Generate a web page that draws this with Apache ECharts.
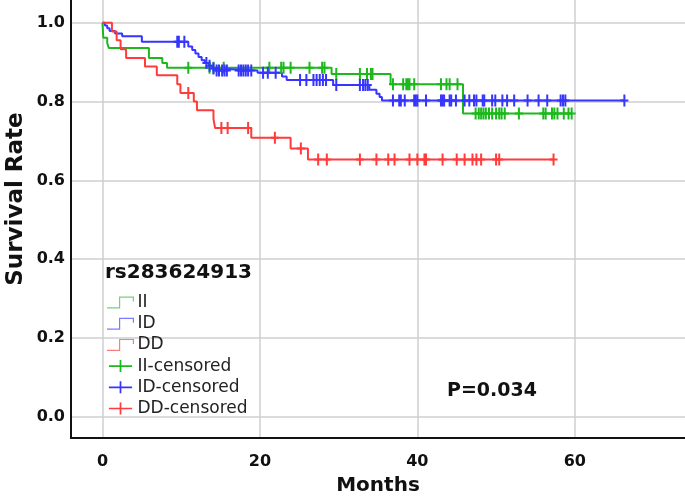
<!DOCTYPE html>
<html>
<head>
<meta charset="utf-8">
<script src="https://cdn.jsdelivr.net/npm/echarts@6/dist/echarts.min.js"></script>
<style>
html,body{margin:0;padding:0;background:#fff;}
#chart{width:685px;height:496px;}
</style>
</head>
<body>
<div id="chart"></div>
<script>
// ---- Data ----
// Kaplan-Meier step points: event times (months) and survival after each event
const iiTimes = [0, 0.1, 0.6, 0.8, 5.9, 7.6, 8.2, 29.1, 36.6, 45.8, 59.6];
const iiSurv  = [1.0, 0.962, 0.949, 0.936, 0.911, 0.898, 0.886, 0.870, 0.844, 0.770, 0.770];

const idTimes = [0, 0.3, 0.6, 0.9, 1.6, 2.5, 5.0, 10.9, 11.4, 11.8, 12.2, 12.6, 13.0, 13.5, 13.9, 14.3, 19.7, 22.8, 23.4, 29.3, 33.9, 34.8, 35.2, 35.5, 66.3];
const idSurv  = [1.0, 0.993, 0.986, 0.979, 0.973, 0.966, 0.952, 0.940, 0.931, 0.922, 0.913, 0.905, 0.898, 0.891, 0.884, 0.879, 0.873, 0.864, 0.855, 0.842, 0.830, 0.820, 0.812, 0.803, 0.803];

const ddTimes = [0, 1.2, 1.8, 2.3, 3.0, 5.4, 6.9, 9.5, 9.9, 11.6, 12.0, 14.1, 14.3, 18.9, 23.9, 26.1, 57.3];
const ddSurv  = [1.0, 0.978, 0.956, 0.933, 0.911, 0.889, 0.867, 0.844, 0.822, 0.800, 0.778, 0.756, 0.733, 0.708, 0.681, 0.653, 0.653];

// censoring times (months)
const iiCensor = [10.9, 13.6, 14.1, 15.4, 21.2, 22.7, 23.0, 23.9, 26.3, 27.9, 28.2, 29.7, 32.7, 33.6, 34.1, 34.3,
  36.9, 38.2, 38.6, 38.8, 39.0, 39.6, 43.0, 43.7, 44.1, 45.1, 47.4, 47.8, 48.1, 48.4, 48.7, 49.1, 49.5, 50.0,
  50.4, 50.7, 51.1, 52.9, 56.0, 56.3, 57.1, 57.4, 57.8, 58.6, 59.2, 59.6];
const idCensor = [9.5, 9.7, 10.4, 13.2, 13.6, 14.1, 14.5, 14.8, 15.2, 15.5, 15.8, 17.3, 17.6, 17.9, 18.2, 18.5, 18.9,
  20.4, 21.0, 22.0, 25.1, 25.9, 26.8, 27.2, 27.6, 28.0, 28.4, 29.7, 32.7, 33.1, 33.4, 33.7,
  36.9, 37.7, 37.9, 38.4, 39.6, 39.8, 40.0, 41.1, 43.0, 43.2, 43.4, 44.1, 44.3, 44.9, 46.0, 46.6, 47.2, 47.5,
  48.3, 48.5, 49.5, 49.9, 50.8, 51.4, 52.3, 54.0, 55.4, 56.5, 58.2, 58.5, 58.8, 66.3];
const ddCensor = [10.9, 15.1, 15.9, 18.5, 21.9, 25.2, 27.4, 28.5, 32.7, 34.8, 36.3, 37.1, 39.0, 40.0, 40.9, 41.1,
  43.2, 45.0, 46.0, 47.0, 47.5, 48.1, 50.0, 50.4, 57.3];

const xTicks = [0, 20, 40, 60];
const yTicks = [0.0, 0.2, 0.4, 0.6, 0.8, 1.0];
const groupNames = ['II', 'ID', 'DD'];
const censorNames = ['II-censored', 'ID-censored', 'DD-censored'];
const legendTitle = 'rs283624913';
const pText = 'P=0.034';

// ---- Build ----
function pairs(t, s) { return t.map((v, i) => [v, s[i]]); }
function survAt(t, s, x) {
  let v = s[0];
  for (let i = 0; i < t.length; i++) { if (t[i] <= x) v = s[i]; }
  return v;
}
function censorPts(c, t, s) { return c.map(x => [x, survAt(t, s, x)]); }

const colors = ['#1cb81c', '#3535ff', '#ff3b3b'];
const lightColors = ['#6fd66f', '#7b7bff', '#ff7b7b'];
const FONT = 'DejaVu Sans';

const plusSym = 'path://M0,5H3V0H5V5H8V7H5V12H3V7H0Z';
const plusIcon = 'path://M0,6H12.5V0H14.5V6H27V8H14.5V14H12.5V8H0Z';
const stepIcon = 'path://M0,10.8H12V0H27V5H25.8V1.2H13.2V12H0Z';

const curves = [pairs(iiTimes, iiSurv), pairs(idTimes, idSurv), pairs(ddTimes, ddSurv)];
const cens = [censorPts(iiCensor, iiTimes, iiSurv), censorPts(idCensor, idTimes, idSurv), censorPts(ddCensor, ddTimes, ddSurv)];

const series = [];
for (let i = 0; i < 3; i++) {
  series.push({
    name: groupNames[i], type: 'line', step: 'end', data: curves[i],
    showSymbol: false, symbol: 'none', silent: true, animation: false,
    lineStyle: { color: colors[i], width: 2 }, itemStyle: { color: colors[i] }, z: 3
  });
}
for (let i = 0; i < 3; i++) {
  series.push({
    name: censorNames[i], type: 'scatter', data: cens[i], symbol: plusSym, symbolSize: [8, 12],
    itemStyle: { color: colors[i], opacity: 1 }, silent: true, animation: false, z: 4
  });
}

const chart = echarts.init(document.getElementById('chart'), null, { renderer: 'canvas' });
chart.setOption({
  animation: false,
  backgroundColor: '#ffffff',
  grid: { left: 71, right: 0, top: 0, bottom: 58, containLabel: false, outerBoundsMode: 'none' },
  xAxis: {
    type: 'value', min: -4, max: 74, minInterval: 20, maxInterval: 20,
    axisLine: { show: true, onZero: false, lineStyle: { color: '#111', width: 2 } },
    axisTick: { show: false },
    axisLabel: {
      margin: 16, color: '#111', fontFamily: FONT, fontWeight: 'bold', fontSize: 16,
      showMinLabel: false, showMaxLabel: false,
      formatter: v => (xTicks.indexOf(v) >= 0 ? String(v) : '')
    },
    splitLine: { show: true, showMinLine: false, showMaxLine: false, lineStyle: { color: '#cfcfcf', width: 1.5 } },
    name: 'Months', nameLocation: 'middle', nameGap: 38,
    nameTextStyle: { color: '#111', fontFamily: FONT, fontWeight: 'bold', fontSize: 20 }
  },
  yAxis: {
    type: 'value', min: -0.054, max: 1.058, minInterval: 0.2, maxInterval: 0.2,
    axisLine: { show: true, onZero: false, lineStyle: { color: '#111', width: 2 } },
    axisTick: { show: false },
    axisLabel: {
      margin: 6, color: '#111', fontFamily: FONT, fontWeight: 'bold', fontSize: 16,
      showMinLabel: false, showMaxLabel: false,
      formatter: v => {
        const hit = yTicks.find(t => Math.abs(t - v) < 1e-6);
        return hit === undefined ? '' : hit.toFixed(1);
      }
    },
    splitLine: { show: true, showMinLine: false, showMaxLine: false, lineStyle: { color: '#cfcfcf', width: 1.5 } }
  },
  legend: {
    orient: 'vertical', left: 107, top: 294, itemWidth: 28, itemHeight: 12, itemGap: 4.2,
    selectedMode: false, padding: 0,
    textStyle: { color: '#222', fontFamily: FONT, fontSize: 17, lineHeight: 12, padding: [0, 0, 0, -2] },
    data: [
      { name: groupNames[0], icon: stepIcon, itemStyle: { color: lightColors[0] } },
      { name: groupNames[1], icon: stepIcon, itemStyle: { color: lightColors[1] } },
      { name: groupNames[2], icon: stepIcon, itemStyle: { color: lightColors[2] } },
      { name: censorNames[0], icon: plusIcon, itemStyle: { color: colors[0] } },
      { name: censorNames[1], icon: plusIcon, itemStyle: { color: colors[1] } },
      { name: censorNames[2], icon: plusIcon, itemStyle: { color: colors[2] } }
    ]
  },
  graphic: [
    { type: 'text', left: 105, top: 263, silent: true,
      style: { text: legendTitle, fill: '#111', font: 'bold 20px "DejaVu Sans"' } },
    { type: 'text', left: 447, top: 382, silent: true,
      style: { text: pText, fill: '#111', font: 'bold 19px "DejaVu Sans"' } },
    { type: 'text', x: 16, y: 199, rotation: Math.PI / 2, silent: true,
      style: { text: 'Survival Rate', fill: '#111', font: 'bold 23px "DejaVu Sans"',
               align: 'center', verticalAlign: 'middle', textAlign: 'center', textVerticalAlign: 'middle' } }
  ],
  series: series
});
</script>
</body>
</html>
